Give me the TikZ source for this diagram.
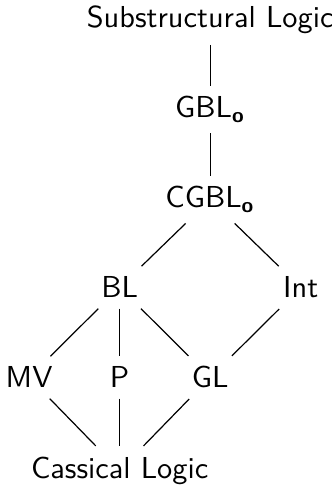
\documentclass[tikz,border=0pt]{standalone}
\usepackage{amsmath}
\begin{document}
\begin{tikzpicture}[x=29.87pt,y=29.7pt,
  lnode/.style={font=\sffamily, anchor=base},
  lat/.style={draw=black, line width=0.4pt}]
\useasboundingbox (-9.6pt,9.2pt) rectangle (99.7pt,-151.8pt);
\node[lnode] (sub)  at (2,0)  {Substructural Logic};
\node[lnode] (gbl)  at (2,-1) {GBL$_{\textbf{o}}$};
\node[lnode] (cgbl) at (2,-2) {CGBL$_{\textbf{o}}$};
\node[lnode] (bl)   at (1,-3) {BL};
\node[lnode] (int)  at (3,-3) {Int};
\node[lnode] (mv)   at (0,-4) {MV};
\node[lnode] (p)    at (1,-4) {P};
\node[lnode] (gl)   at (2,-4) {GL};
\node[lnode] (cl)   at (1,-5) {Cassical Logic};
\draw[lat] (sub) -- (gbl);
\draw[lat] (gbl) -- (cgbl);
\draw[lat] (cgbl) -- (bl);
\draw[lat] (cgbl) -- (int);
\draw[lat] (bl) -- (mv);
\draw[lat] (bl) -- (p);
\draw[lat] (bl) -- (gl);
\draw[lat] (int) -- (gl);
\draw[lat] (mv) -- (cl);
\draw[lat] (p) -- (cl);
\draw[lat] (gl) -- (cl);
\end{tikzpicture}
\end{document}
